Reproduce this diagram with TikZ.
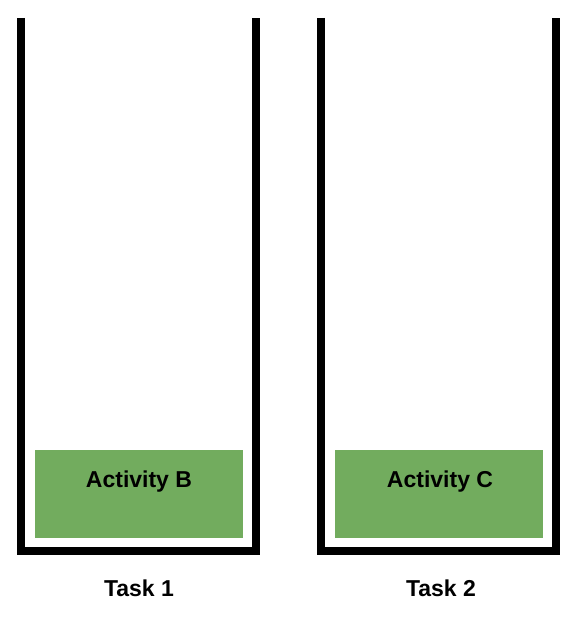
\documentclass[tikz,border=0pt]{standalone}
\usepackage{fontspec}
\setmainfont{Liberation Sans}
\definecolor{actgreen}{RGB}{114,172,94}
\begin{document}
\begin{tikzpicture}[x=1pt,y=-1pt,
  wall/.style={line width=8pt, line join=miter, line cap=butt},
  actbox/.style={fill=actgreen, draw=none, minimum width=208pt, minimum height=88pt, inner sep=0pt},
  acttext/.style={font=\bfseries\fontsize{23}{26}\selectfont, inner sep=0pt, anchor=base},
  tasktext/.style={font=\bfseries\fontsize{23}{26}\selectfont, inner sep=0pt, anchor=base}]
  \useasboundingbox (0,0) rectangle (578,618);
  % task containers (open at the top)
  \draw[wall] (21,18) -- (21,551) -- (256,551) -- (256,18);
  \draw[wall] (321,18) -- (321,551) -- (556,551) -- (556,18);
  % activities
  \node[actbox] (boxB) at (139,494) {};
  \node[acttext] (actB) at (139,487.5) {Activity B};
  \node[actbox] (boxC) at (438.5,494) {};
  \node[acttext] (actC) at (440,487.5) {Activity C};
  % task labels
  \node[tasktext] (task1) at (139,596) {Task 1};
  \node[tasktext] (task2) at (441,596) {Task 2};
\end{tikzpicture}
\end{document}
